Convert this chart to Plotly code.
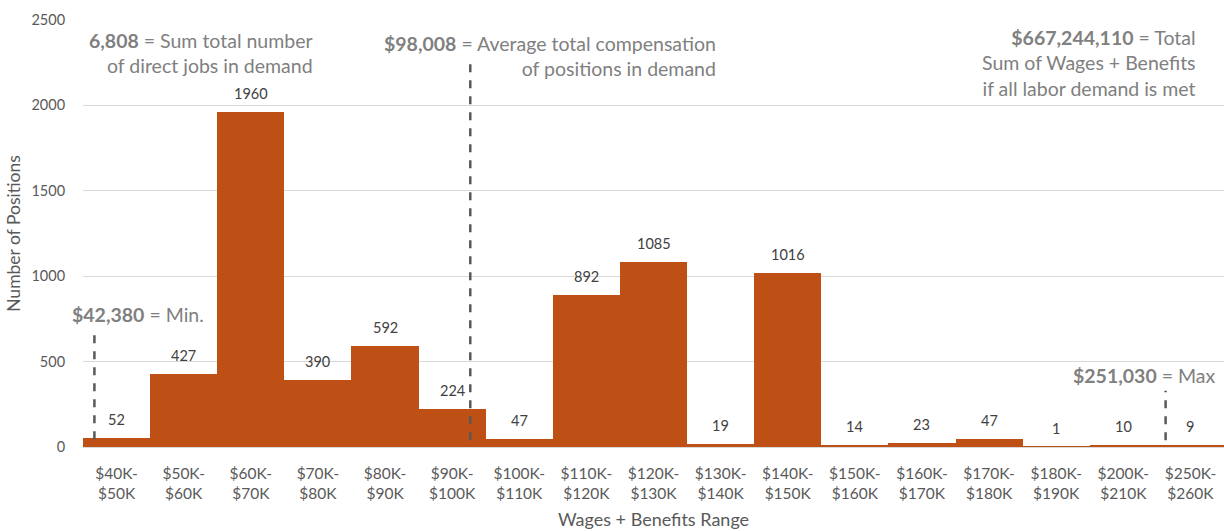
import plotly.graph_objects as go

categories = ["$40K-<br>$50K", "$50K-<br>$60K", "$60K-<br>$70K", "$70K-<br>$80K", "$80K-<br>$90K",
              "$90K-<br>$100K", "$100K-<br>$110K", "$110K-<br>$120K", "$120K-<br>$130K",
              "$130K-<br>$140K", "$140K-<br>$150K", "$150K-<br>$160K", "$160K-<br>$170K",
              "$170K-<br>$180K", "$180K-<br>$190K", "$200K-<br>$210K", "$250K-<br>$260K"]
positions = [52, 427, 1960, 390, 592, 224, 47, 892, 1085, 19, 1016, 14, 23, 47, 1, 10, 9]

# reference lines: (x position in category units, y start, y end)
min_line = (-0.33, 45, 700)
avg_line = (5.27, 40, 2280)
max_line = (15.63, 40, 330)

FONT = "Lato"
BAR = "#BE5016"
GRAY = "#808080"
DARK = "#595959"

fig = go.Figure()
fig.add_trace(go.Bar(x=list(range(len(categories))), y=positions, marker_color=BAR,
                     marker_line_width=0, width=1.0, hoverinfo="y"))

for (lx, y0, y1) in [min_line, avg_line, max_line]:
    fig.add_trace(go.Scatter(x=[lx, lx], y=[y0, y1], mode="lines",
                             line=dict(color=DARK, width=2.5, dash="8px,8px"),
                             hoverinfo="skip"))

for i, v in enumerate(positions):
    fig.add_annotation(x=i, y=v, text=str(v), showarrow=False, yanchor="bottom",
                       yshift=8, font=dict(family=FONT, size=14.5, color="#404040"))

def px2paper_x(px):
    return (px - 83) / 1141

def px2paper_y(py):
    return (447 - py) / 427

notes = [
    ("<b>6,808</b> = Sum total number<br>of direct jobs in demand", 315, 27),
    ("<b>$98,008</b> = Average total compensation<br>of positions in demand", 718, 30),
    ("<b>$667,244,110</b> = Total<br>Sum of Wages + Benefits<br>if all labor demand is met", 1198, 24),
    ("<b>$42,380</b> = Min.", 206, 301),
    ("<b>$251,030</b> = Max", 1218, 362),
]
for txt, xr, yt in notes:
    fig.add_annotation(x=px2paper_x(xr), y=px2paper_y(yt), xref="paper", yref="paper",
                       text=txt, showarrow=False, xanchor="right", yanchor="top", align="right",
                       font=dict(family=FONT, size=19.5, color=GRAY))

fig.update_layout(
    width=1224, height=531,
    margin=dict(l=83, r=0, t=20, b=84),
    paper_bgcolor="white", plot_bgcolor="white",
    showlegend=False, bargap=0,
    font=dict(family=FONT, color=DARK),
    xaxis=dict(tickmode="array", tickvals=list(range(len(categories))), ticktext=categories,
               range=[-0.5, len(categories) - 0.5], showgrid=False,
               showline=True, linecolor="#D9D9D9", linewidth=1,
               ticks="outside", ticklen=12, tickcolor="rgba(0,0,0,0)",
               tickfont=dict(family=FONT, size=15.5, color=DARK),
               title=dict(text="Wages + Benefits Range", font=dict(family=FONT, size=18, color=DARK),
                          standoff=12)),
    yaxis=dict(range=[0, 2500], tickvals=[0, 500, 1000, 1500, 2000, 2500],
               showgrid=True, gridcolor="#D9D9D9", gridwidth=1, zeroline=False,
               ticks="outside", ticklen=14, tickcolor="rgba(0,0,0,0)",
               tickfont=dict(family=FONT, size=14.5, color=DARK),
               title=dict(text="Number of Positions", font=dict(family=FONT, size=17.5, color=DARK),
                          standoff=6)),
)

fig.write_html("out.html")
